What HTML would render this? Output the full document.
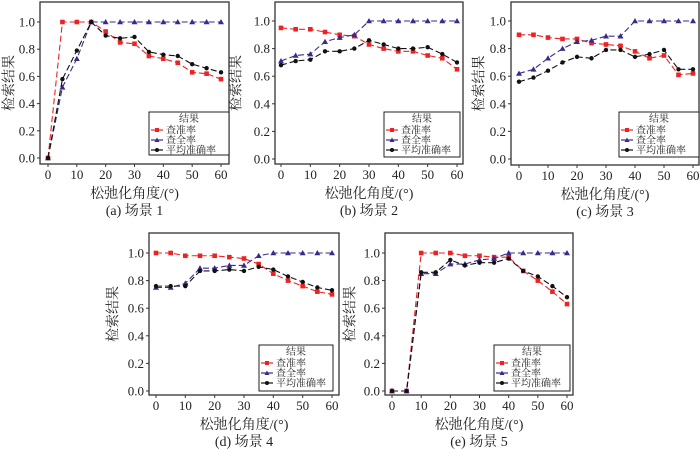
<!DOCTYPE html>
<html><head><meta charset="utf-8"><style>
body{margin:0;background:#fff;width:700px;height:451px;overflow:hidden}
svg{display:block;font-family:"Liberation Serif","Noto Serif CJK SC",serif}
</style></head><body>
<svg id="fig" width="700" height="451" viewBox="0 0 700 451"></svg>
<script>
const xCats=[0,5,10,15,20,25,30,35,40,45,50,55,60];
const yTicks=[0,0.2,0.4,0.6,0.8,1.0];
const xTicks=[0,10,20,30,40,50,60];
const seriesNames=["查准率","查全率","平均准确率"];
const aP=[0,1,1,1,0.93,0.85,0.84,0.75,0.73,0.70,0.63,0.62,0.58];
const aR=[0,0.52,0.73,1,1,1,1,1,1,1,1,1,1];
const aA=[0,0.58,0.79,1,0.90,0.88,0.89,0.78,0.76,0.75,0.69,0.66,0.63];
const bP=[0.95,0.94,0.94,0.92,0.90,0.89,0.83,0.80,0.78,0.78,0.75,0.73,0.65];
const bR=[0.71,0.75,0.76,0.85,0.88,0.90,1,1,1,1,1,1,1];
const bA=[0.68,0.71,0.72,0.78,0.78,0.80,0.86,0.83,0.80,0.80,0.81,0.76,0.70];
const cP=[0.90,0.90,0.88,0.87,0.87,0.84,0.83,0.82,0.78,0.73,0.75,0.61,0.62];
const cR=[0.62,0.65,0.73,0.80,0.85,0.86,0.89,0.89,1,1,1,1,1];
const cA=[0.56,0.59,0.64,0.70,0.74,0.73,0.79,0.79,0.74,0.76,0.79,0.65,0.65];
const dP=[1,1,0.98,0.98,0.98,0.97,0.96,0.92,0.85,0.80,0.76,0.72,0.70];
const dR=[0.75,0.75,0.78,0.89,0.89,0.91,0.91,0.98,1,1,1,1,1];
const dA=[0.76,0.76,0.76,0.87,0.87,0.88,0.87,0.90,0.88,0.83,0.79,0.75,0.73];
const eP=[0,0,1,1,1,0.98,0.98,0.97,0.97,0.87,0.80,0.72,0.63];
const eR=[0,0,0.85,0.85,0.92,0.92,0.95,0.96,1,1,1,1,1];
const eA=[0,0,0.86,0.86,0.95,0.91,0.93,0.93,0.96,0.87,0.83,0.76,0.68];
const captions=["(a) 场景 1","(b) 场景 2","(c) 场景 3","(d) 场景 4","(e) 场景 5"];

const panels=[
 {id:"a",L:40,R:229,T:2,B:164,x0:48,x60:221,y0:158,y1:22,yl:10,data:[aP,aR,aA],lg:[149,112,229,155]},
 {id:"b",L:275,R:463,T:2,B:164,x0:281,x60:457,y0:159,y1:21,yl:237,data:[bP,bR,bA],lg:[384,112,460,157]},
 {id:"c",L:511,R:699,T:2,B:165,x0:519,x60:693,y0:159,y1:21,yl:480,data:[cP,cR,cA],lg:[619,112,699,157]},
 {id:"d",L:149,R:339,T:233,B:395,x0:156,x60:332,y0:391,y1:253,yl:114,data:[dP,dR,dA],lg:[259,345,333,391]},
 {id:"e",L:385,R:573,T:233,B:395,x0:392,x60:567,y0:391,y1:253,yl:351,data:[eP,eR,eA],lg:[494,345,570,391]}
];
const colors=["#ee2222","#3a2a8a","#111111"];
const NS="http://www.w3.org/2000/svg";
const svg=document.getElementById("fig");
function mk(tag,attrs,parent,txt){const e=document.createElementNS(NS,tag);for(const k in attrs)e.setAttribute(k,attrs[k]);if(txt!==undefined)e.textContent=txt;parent.appendChild(e);return e;}

panels.forEach((p,pi)=>{
  const g=mk("g",{},svg);
  
  
  const sx=v=>p.x0+(p.x60-p.x0)*v/60;
  const sy=v=>p.y0+(p.y1-p.y0)*v;
  const box=mk("rect",{x:p.L,y:p.T,width:p.R-p.L,height:p.B-p.T,fill:"none",stroke:"#333","stroke-width":1.3},g);
  
  
  yTicks.forEach(t=>{
    const y=sy(t);
    mk("line",{x1:p.L-3,x2:p.L,y1:y,y2:y,stroke:"#333"},g);
    const tl=mk("text",{x:p.L-5,y:y+4.5,"text-anchor":"end","font-size":13,fill:"#222"},g,t.toFixed(1));
    
    
  });
  xTicks.forEach(t=>{
    const x=sx(t);
    mk("line",{x1:x,x2:x,y1:p.B,y2:p.B+3,stroke:"#333"},g);
    const tl=mk("text",{x:x,y:p.B+15,"text-anchor":"middle","font-size":13,fill:"#222"},g,String(t));
    
    
  });
  const xt=mk("text",{x:(p.L+p.R)/2,y:p.B+34,"text-anchor":"middle","font-size":14,fill:"#222"},g,"松弛化角度/(°)");
  
  
  const cy=(p.T+p.B)/2;
  const yt=mk("text",{x:p.yl,y:cy,"text-anchor":"middle","font-size":14,fill:"#222",transform:`rotate(-90 ${p.yl} ${cy})`,"dominant-baseline":"central"},g,"检索结果");
  
  
  const cap=mk("text",{x:(p.L+p.R)/2,y:p.B+51,"text-anchor":"middle","font-size":14,fill:"#222"},g,captions[pi]);
  
  
  p.data.forEach((arr,si)=>{
    const pts=arr.map((v,i)=>sx(xCats[i])+","+sy(v)).join(" ");
    const ln=mk("polyline",{points:pts,fill:"none",stroke:colors[si],"stroke-width":1.1,"stroke-dasharray":"6,3"},g);
    
    
    arr.forEach((v,i)=>{
      const x=sx(xCats[i]),y=sy(v);let m;
      if(si===0)m=mk("rect",{x:x-2.3,y:y-2.3,width:4.6,height:4.6,fill:colors[si]},g);
      else if(si===1)m=mk("polygon",{points:`${x},${y-3} ${x-3},${y+2.3} ${x+3},${y+2.3}`,fill:colors[si]},g);
      else m=mk("circle",{cx:x,cy:y,r:2.2,fill:colors[si]},g);
      
      
    });
  });
  const [lx1,ly1,lx2,ly2]=p.lg;
  const lg=mk("g",{},g);
  
  
  mk("rect",{x:lx1,y:ly1,width:lx2-lx1,height:ly2-ly1,fill:"#fff",stroke:"#222","stroke-width":1},lg);
  mk("text",{x:(lx1+lx2)/2,y:ly1+10,"text-anchor":"middle","font-size":10,fill:"#222"},lg,"结果");
  seriesNames.forEach((n,si)=>{
    const y=ly1+18+si*10;
    const e=mk("g",{},lg);
    
    
    mk("line",{x1:lx1+2,x2:lx1+14,y1:y,y2:y,stroke:colors[si],"stroke-width":1.2},e);
    if(si===0)mk("rect",{x:lx1+6,y:y-2,width:4,height:4,fill:colors[si]},e);
    else if(si===1)mk("polygon",{points:`${lx1+8},${y-2.5} ${lx1+5.5},${y+2} ${lx1+10.5},${y+2}`,fill:colors[si]},e);
    else mk("circle",{cx:lx1+8,cy:y,r:2,fill:colors[si]},e);
    mk("text",{x:lx1+17,y:y+3.5,"font-size":10,fill:"#222"},e,n);
  });
});
</script>
</body></html>
